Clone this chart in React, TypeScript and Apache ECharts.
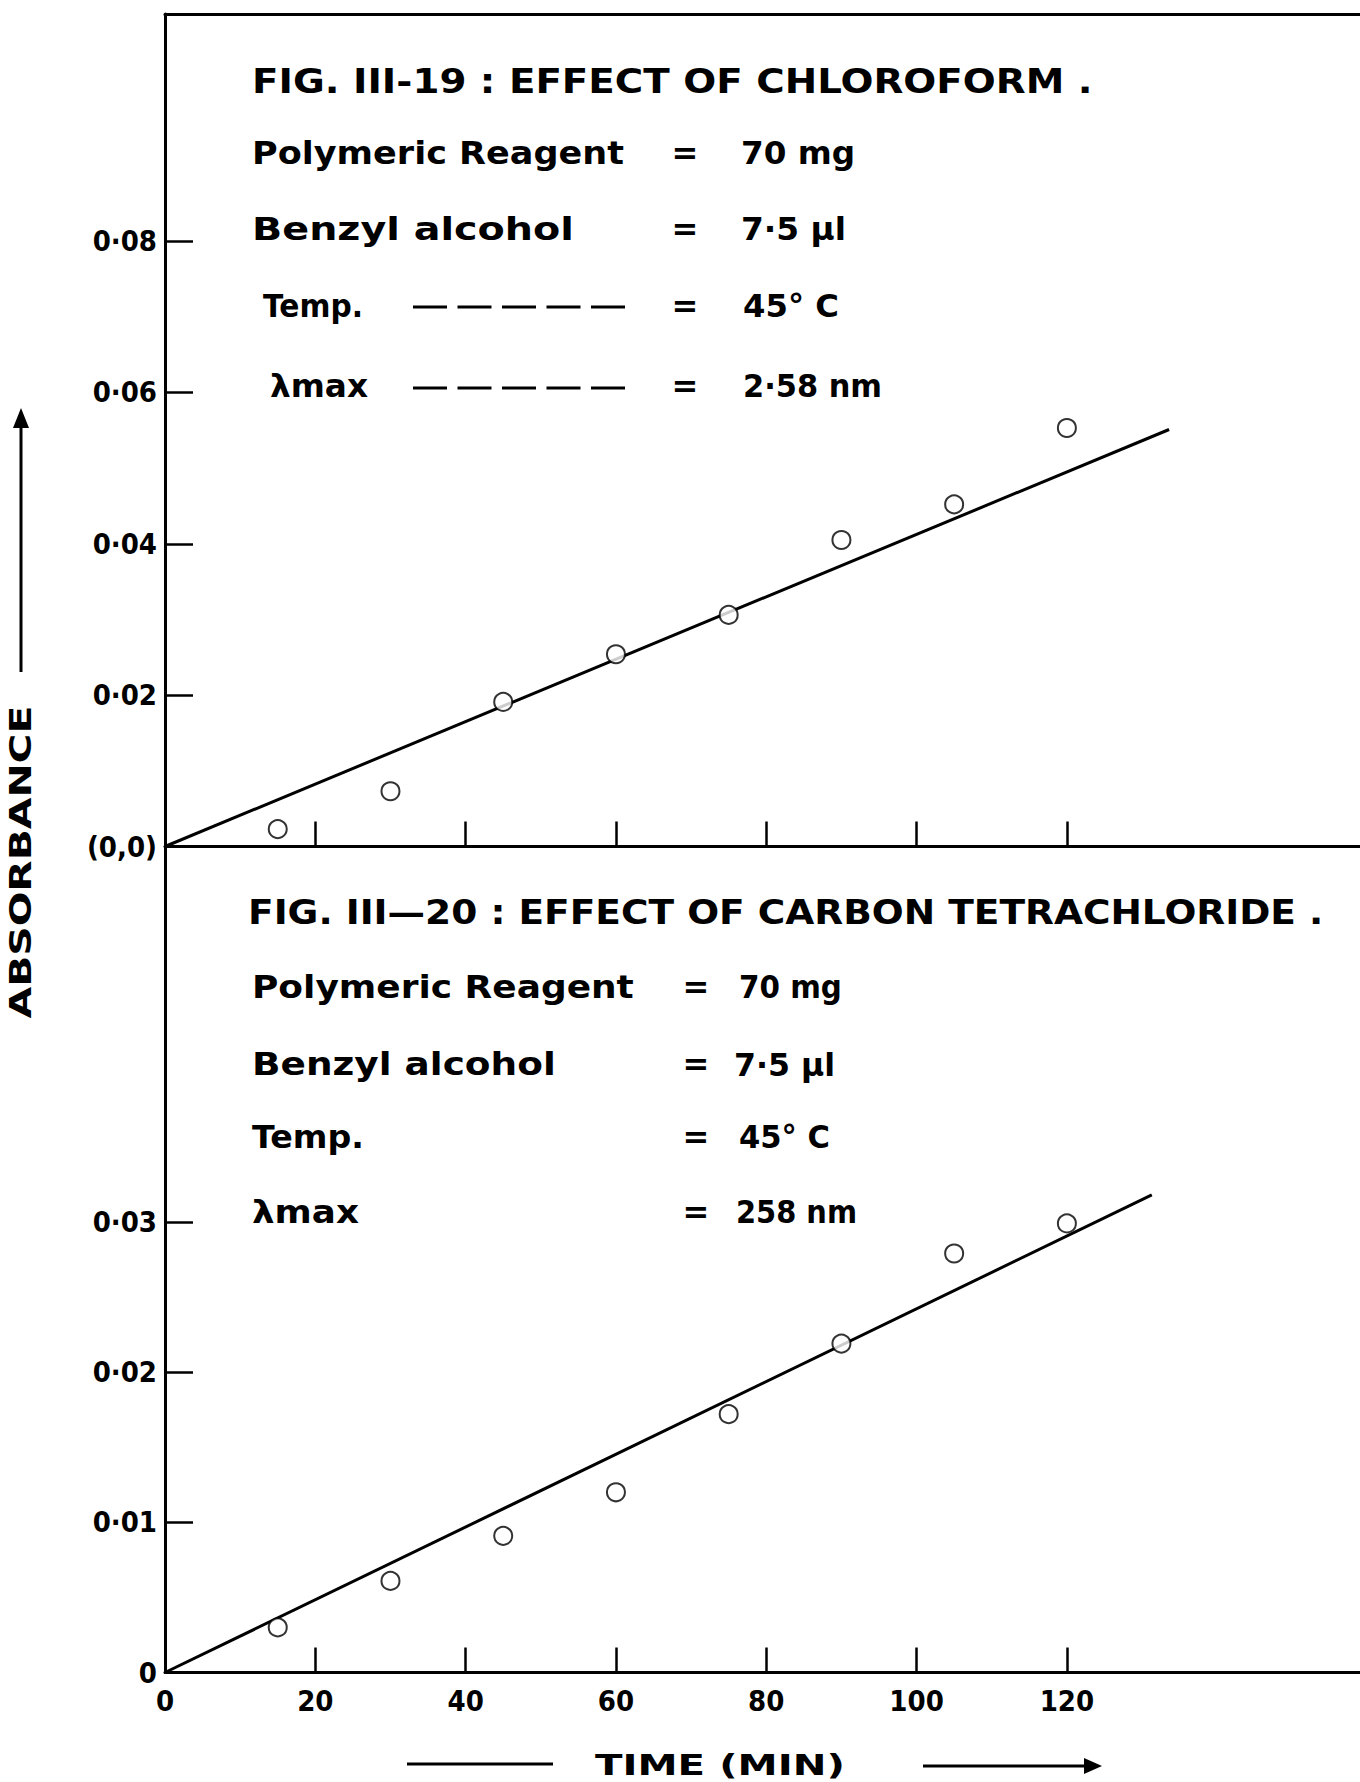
import React, { useEffect, useRef } from "react";
import * as echarts from "echarts";

// ---------- data ----------
const timeMin = [15, 30, 45, 60, 75, 90, 105, 120];
const chloroformAbs = [0.0023, 0.0073, 0.0191, 0.0254, 0.0306, 0.0405, 0.0452, 0.0553];
const ccl4Abs = [0.003, 0.0061, 0.0091, 0.012, 0.0172, 0.0219, 0.0279, 0.0299];
const chloroformFit = [[0, 0], [133.6, 0.0551]];
const ccl4Fit = [[0, 0], [131.3, 0.0318]];

const xTicks = [0, 20, 40, 60, 80, 100, 120];
const xTickLabels = ["0", "20", "40", "60", "80", "100", "120"];
const topYTicks = [0, 0.02, 0.04, 0.06, 0.08];
const topYLabels = ["(0,0)", "0·02", "0·04", "0·06", "0·08"];
const bottomYTicks = [0, 0.01, 0.02, 0.03];
const bottomYLabels = ["0", "0·01", "0·02", "0·03"];

const topTitle = "FIG. III-19 : EFFECT OF CHLOROFORM .";
const bottomTitle = "FIG. III—20 : EFFECT OF CARBON TETRACHLORIDE .";
const paramNames = ["Polymeric Reagent", "Benzyl alcohol", "Temp.", "λmax"];
const topParamValues = ["70 mg", "7·5 µl", "45° C", "2·58 nm"];
const bottomParamValues = ["70 mg", "7·5 µl", "45° C", "258 nm"];
const yTitle = "ABSORBANCE";
const xTitle = "TIME (MIN)";

const FONT = '"DejaVu Sans"';
const AXIS_FONT = '"DejaVu Sans Condensed", "DejaVu Sans"';

function lookup(ticks: number[], labels: string[]) {
  return (v: number) => {
    const i = ticks.findIndex((t) => Math.abs(t - v) < 1e-9);
    return i >= 0 ? labels[i] : "";
  };
}

export default function App() {
  const ref = useRef<HTMLDivElement>(null);

  useEffect(() => {
    if (!ref.current) return;
    const chart = echarts.init(ref.current, null, { renderer: "svg" });

    const ctx = document.createElement("canvas").getContext("2d")!;
    const measure = (t: string, size: number) => {
      ctx.font = `bold ${size}px ${FONT}`;
      return ctx.measureText(t).width;
    };
    const txt = (t: string, x: number, y: number, w: number | null, size: number, align = "left") => ({
      type: "text",
      x,
      y,
      scaleX: w ? w / measure(t, size) : 1,
      silent: true,
      style: {
        text: t,
        fill: "#000",
        fontSize: size,
        fontFamily: FONT,
        fontWeight: "bold",
        align,
        verticalAlign: "middle",
      },
    });

    const axisLine = { show: true, onZero: false, lineStyle: { color: "#000", width: 3 } };
    const labelStyle = { color: "#000", fontFamily: AXIS_FONT, fontWeight: "bold" };

    // layout (full-page coordinates)
    const topRowsY = [153, 229, 306, 386];
    const topNameX = [252, 252, 263, 270];
    const topNameW = [372, 322, 100, 98];
    const topValX = [741, 741, 743, 743];
    const topValW = [114, 105, 96, 139];
    const botRowsY = [987, 1064, 1137, 1212];
    const botNameW = [382, 304, 112, 107];
    const botValX = [739, 734, 739, 736];
    const botValW = [103, 101, 91, 121];

    const graphics: any[] = [];
    graphics.push(txt(topTitle, 252, 81, 841, 34));
    graphics.push(txt(bottomTitle, 248, 912, 1076, 34));
    paramNames.forEach((n, i) => {
      graphics.push(txt(n, topNameX[i], topRowsY[i], topNameW[i], 32));
      graphics.push(txt("=", 685, topRowsY[i], null, 32, "center"));
      graphics.push(txt(topParamValues[i], topValX[i], topRowsY[i], topValW[i], 32));
      graphics.push(txt(n, 252, botRowsY[i], botNameW[i], 32));
      graphics.push(txt("=", 696, botRowsY[i], null, 32, "center"));
      graphics.push(txt(bottomParamValues[i], botValX[i], botRowsY[i], botValW[i], 32));
    });
    // dashed leaders in the top panel
    [307, 388].forEach((y) =>
      graphics.push({
        type: "line",
        silent: true,
        shape: { x1: 413, y1: y, x2: 625, y2: y },
        style: { stroke: "#000", lineWidth: 3, lineDash: [34, 10.5] },
      })
    );
    // y-axis title + arrow
    graphics.push({
      type: "text",
      x: 21,
      y: 862,
      rotation: Math.PI / 2,
      scaleX: 313 / measure(yTitle, 30),
      silent: true,
      style: {
        text: yTitle,
        fill: "#000",
        fontSize: 30,
        fontFamily: FONT,
        fontWeight: "bold",
        align: "center",
        verticalAlign: "middle",
      },
    });
    graphics.push({
      type: "line",
      silent: true,
      shape: { x1: 21, y1: 672, x2: 21, y2: 424 },
      style: { stroke: "#000", lineWidth: 3 },
    });
    graphics.push({
      type: "polygon",
      silent: true,
      shape: { points: [[21, 408], [13, 428], [29, 428]] },
      style: { fill: "#000" },
    });
    // x-axis title + arrows
    graphics.push(txt(xTitle, 595, 1765, 250, 28));
    graphics.push({
      type: "line",
      silent: true,
      shape: { x1: 407, y1: 1764, x2: 553, y2: 1764 },
      style: { stroke: "#000", lineWidth: 3 },
    });
    graphics.push({
      type: "line",
      silent: true,
      shape: { x1: 923, y1: 1766, x2: 1088, y2: 1766 },
      style: { stroke: "#000", lineWidth: 3 },
    });
    graphics.push({
      type: "polygon",
      silent: true,
      shape: { points: [[1102, 1766], [1084, 1758], [1084, 1774]] },
      style: { fill: "#000" },
    });

    const scatterStyle = {
      type: "scatter",
      symbol: "emptyCircle",
      symbolSize: 18,
      itemStyle: { color: "#000", borderColor: "#000", borderWidth: 3 },
      z: 5,
    };
    const lineStyle = {
      type: "line",
      symbol: "none",
      lineStyle: { color: "#000", width: 3 },
      z: 3,
    };

    chart.setOption({
      animation: false,
      backgroundColor: "#fff",
      grid: [
        { left: 165, top: 14, right: 0, height: 832.5 },
        { left: 165, top: 846.5, right: 0, height: 826 },
      ],
      xAxis: [
        {
          gridIndex: 0,
          type: "value",
          min: 0,
          max: 159,
          position: "bottom",
          axisLine,
          axisTick: {
            show: true,
            inside: true,
            length: 25,
            lineStyle: { color: "#000", width: 2.5 },
            customValues: xTicks.slice(1),
          },
          axisLabel: { show: false },
          splitLine: { show: false },
        },
        {
          gridIndex: 0,
          type: "value",
          min: 0,
          max: 159,
          position: "top",
          axisLine,
          axisTick: { show: false },
          axisLabel: { show: false },
          splitLine: { show: false },
        },
        {
          gridIndex: 1,
          type: "value",
          min: 0,
          max: 159,
          position: "bottom",
          axisLine,
          axisTick: {
            show: true,
            inside: true,
            length: 25,
            lineStyle: { color: "#000", width: 2.5 },
            customValues: xTicks.slice(1),
          },
          axisLabel: {
            ...labelStyle,
            fontSize: 29,
            margin: 14,
            customValues: xTicks,
            formatter: lookup(xTicks, xTickLabels),
          },
          splitLine: { show: false },
        },
      ],
      yAxis: [
        {
          gridIndex: 0,
          type: "value",
          min: 0,
          max: 0.11,
          axisLine,
          axisTick: {
            show: true,
            inside: true,
            length: 28,
            lineStyle: { color: "#000", width: 2.5 },
            customValues: topYTicks.slice(1),
          },
          axisLabel: {
            ...labelStyle,
            fontSize: 29,
            margin: 8,
            customValues: topYTicks,
            formatter: lookup(topYTicks, topYLabels),
          },
          splitLine: { show: false },
        },
        {
          gridIndex: 1,
          type: "value",
          min: 0,
          max: 0.055,
          axisLine,
          axisTick: {
            show: true,
            inside: true,
            length: 28,
            lineStyle: { color: "#000", width: 2.5 },
            customValues: bottomYTicks.slice(1),
          },
          axisLabel: {
            ...labelStyle,
            fontSize: 29,
            margin: 8,
            customValues: bottomYTicks,
            formatter: lookup(bottomYTicks, bottomYLabels),
          },
          splitLine: { show: false },
        },
      ],
      series: [
        { ...lineStyle, name: "Chloroform fit", xAxisIndex: 0, yAxisIndex: 0, data: chloroformFit },
        {
          ...scatterStyle,
          name: "Chloroform",
          xAxisIndex: 0,
          yAxisIndex: 0,
          data: timeMin.map((t, i) => [t, chloroformAbs[i]]),
        },
        { ...lineStyle, name: "CCl4 fit", xAxisIndex: 2, yAxisIndex: 1, data: ccl4Fit },
        {
          ...scatterStyle,
          name: "Carbon tetrachloride",
          xAxisIndex: 2,
          yAxisIndex: 1,
          data: timeMin.map((t, i) => [t, ccl4Abs[i]]),
        },
      ],
      graphic: graphics,
    });

    return () => chart.dispose();
  }, []);

  return (
    <div
      ref={ref}
      style={{ position: "absolute", left: 0, top: 0, width: 1360, height: 1782, background: "#fff" }}
    />
  );
}
